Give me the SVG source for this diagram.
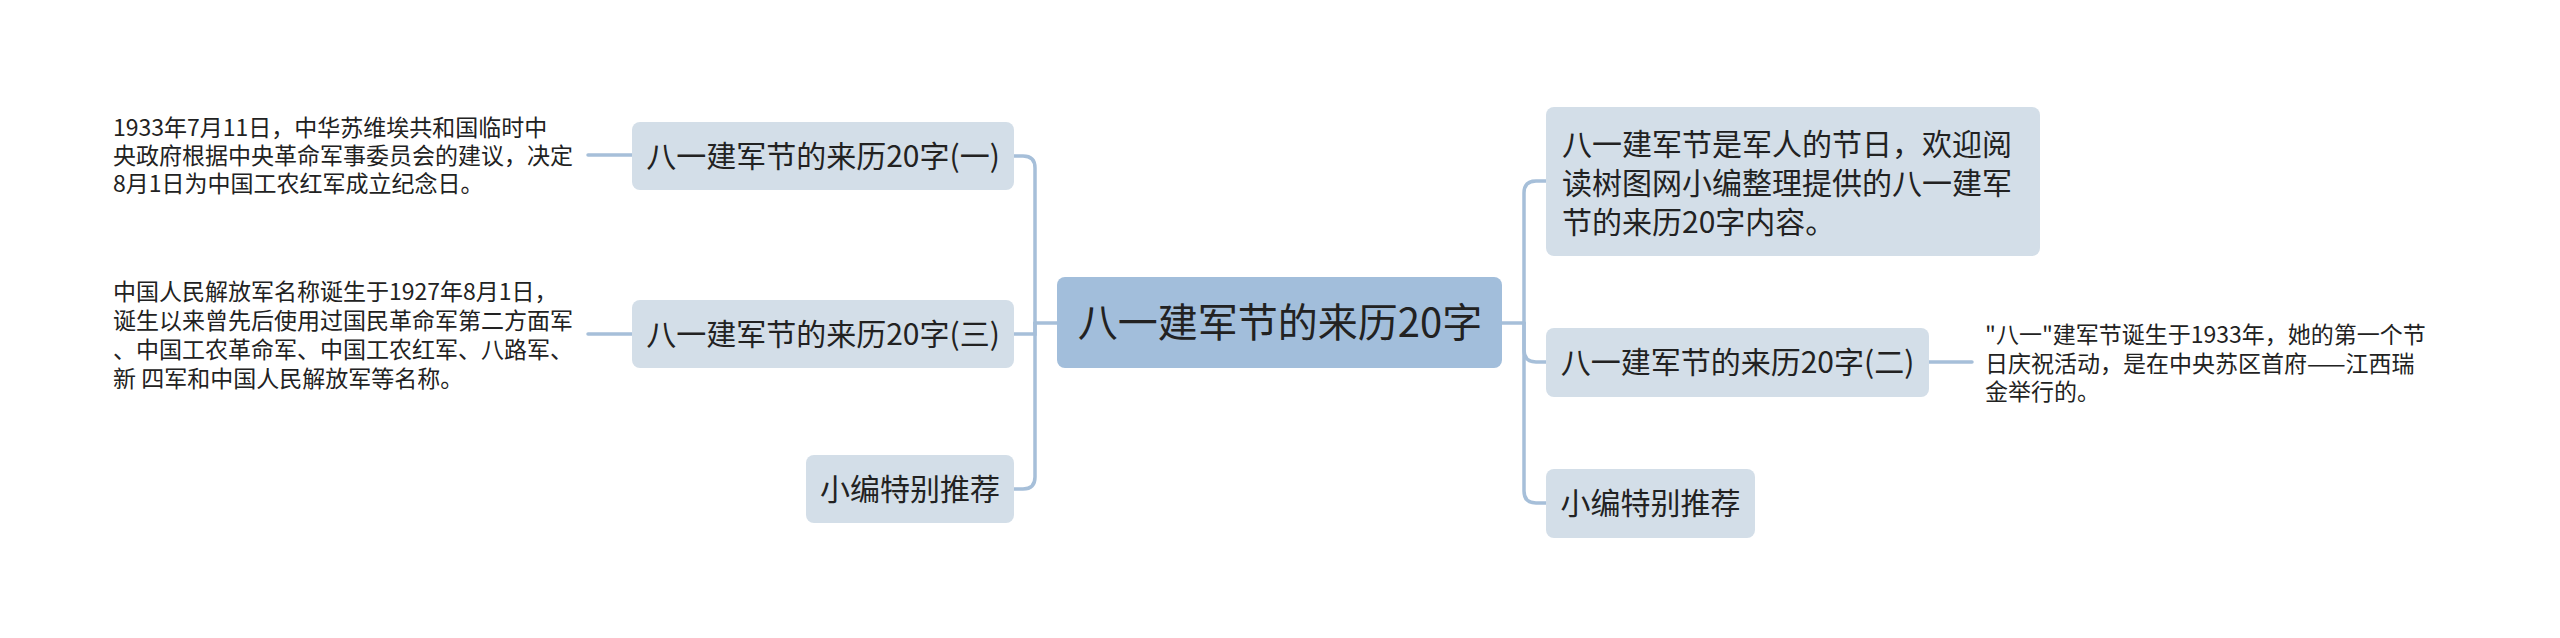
<svg xmlns="http://www.w3.org/2000/svg" width="2560" height="638" viewBox="0 0 2560 638">
<style>
.bg{fill:#ffffff}
.node{fill:#d3dee8}
.root{fill:#a2bedb}
.t{font-family:"Noto Sans CJK SC","Noto Sans",sans-serif;fill:#222222}
.t40{font-size:40px}
.t30{font-size:30px}
.t23{font-size:23px}
.mid{text-anchor:middle}
.link{fill:none;stroke:#a6bfd9;stroke-width:3.5;stroke-linecap:round}
</style>
<rect class="bg" x="0" y="0" width="2560" height="638"/>
<g id="connectors">
<path class="link" d="M1057 323 H1035"/>
<path class="link" d="M1035 323 V168 Q1035 156 1023 156 H1014"/>
<path class="link" d="M1035 323 V334 H1014"/>
<path class="link" d="M1035 323 V477 Q1035 489 1023 489 H1014"/>
<path class="link" d="M632 155 H588"/>
<path class="link" d="M632 334 H588"/>
<path class="link" d="M1502 323 H1524"/>
<path class="link" d="M1524 323 V193 Q1524 181 1536 181 H1546"/>
<path class="link" d="M1524 323 V350 Q1524 362 1536 362 H1546"/>
<path class="link" d="M1524 323 V491 Q1524 503 1536 503 H1546"/>
<path class="link" d="M1929 362 H1972"/>
</g>
<g id="root">
<rect class="root" x="1057" y="277" width="445" height="91" rx="8"/>
<text class="t t40 mid" x="1280" y="337">八一建军节的来历20字</text>
</g>
<g id="left1">
<rect class="node" x="632" y="122" width="382" height="68" rx="8"/>
<text class="t t30 mid" x="823" y="166.5">八一建军节的来历20字(一)</text>
</g>
<g id="left1-leaf">
<text class="t t23" x="113" y="136">1933年7月11日，中华苏维埃共和国临时中</text>
<text class="t t23" x="113" y="164">央政府根据中央革命军事委员会的建议，决定</text>
<text class="t t23" x="113" y="192">8月1日为中国工农红军成立纪念日。</text>
</g>
<g id="left3">
<rect class="node" x="632" y="300" width="382" height="68" rx="8"/>
<text class="t t30 mid" x="823" y="344.5">八一建军节的来历20字(三)</text>
</g>
<g id="left3-leaf">
<text class="t t23" x="113" y="300">中国人民解放军名称诞生于1927年8月1日，</text>
<text class="t t23" x="113" y="329">诞生以来曾先后使用过国民革命军第二方面军</text>
<text class="t t23" x="113" y="358">、中国工农革命军、中国工农红军、八路军、</text>
<text class="t t23" x="113" y="387">新 四军和中国人民解放军等名称。</text>
</g>
<g id="left4">
<rect class="node" x="806" y="455" width="208" height="68" rx="8"/>
<text class="t t30 mid" x="910" y="499.5">小编特别推荐</text>
</g>
<g id="right1">
<rect class="node" x="1546" y="107" width="494" height="149" rx="8"/>
<text class="t t30" x="1562" y="154.5">八一建军节是军人的节日，欢迎阅</text>
<text class="t t30" x="1562" y="193.5">读树图网小编整理提供的八一建军</text>
<text class="t t30" x="1562" y="232.5">节的来历20字内容。</text>
</g>
<g id="right2">
<rect class="node" x="1546" y="328" width="383" height="69" rx="8"/>
<text class="t t30 mid" x="1737.5" y="373">八一建军节的来历20字(二)</text>
</g>
<g id="right2-leaf">
<text class="t t23" x="1985" y="343">"八一"建军节诞生于1933年，她的第一个节</text>
<text class="t t23" x="1985" y="372">日庆祝活动，是在中央苏区首府——江西瑞</text>
<text class="t t23" x="1985" y="400">金举行的。</text>
</g>
<g id="right3">
<rect class="node" x="1546" y="469" width="209" height="69" rx="8"/>
<text class="t t30 mid" x="1650.5" y="514">小编特别推荐</text>
</g>
</svg>
